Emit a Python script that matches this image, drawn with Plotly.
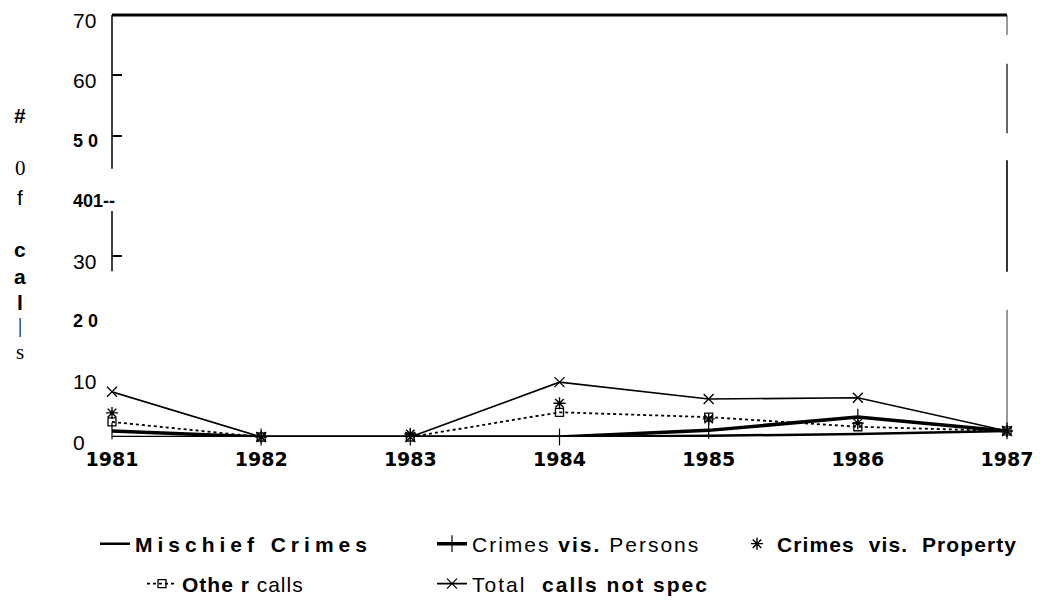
import plotly.graph_objects as go

# Calls per year, 1981-1987
years = [1981, 1982, 1983, 1984, 1985, 1986, 1987]
mischief = [0, 0, 0, 0, 0.2, 0.5, 1]
persons = [1, 0, 0, 0, 1.1, 3.3, 1]
property_crimes = [4, 0, 0.5, 5.6, 3, 2.3, 1]
other_calls = [2.5, 0, 0, 4.1, 3.3, 1.7, 1]
total_not_spec = [7.5, 0, 0, 9.1, 6.3, 6.5, 1]

y_tick_vals = [70, 60, 50, 40, 30, 20, 10, 0]
y_tick_text = ["70", "60", "<b>5 0</b>", "<b>401--</b>", "30", "<b>2 0</b>", "10", "0"]
x_tick_text = ["<b>1981</b>", "<b>1982</b>", "<b>1983</b>", "<b>1984</b>",
               "<b>1985</b>", "<b>1986</b>", "<b>1987</b>"]

W, H = 1043, 601
L, R, T, B = 112, 36, 15, 164
PW, PH = W - L - R, H - T - B
Y_MAX = 70


def px_x(px):
    return (px - L) / PW


def px_y(py):
    return (H - B - py) / PH


def val_y(v):
    return v / Y_MAX


def spaced(text, px):
    return f'<span style="letter-spacing:{px}px">{text}</span>'


fig = go.Figure()

fig.add_trace(go.Scatter(
    x=years, y=mischief,
    name="<b>" + spaced("Mischief", 5) + "  " + spaced("Crimes", 5) + "</b>",
    mode="lines", line=dict(color="black", width=2.5),
    cliponaxis=False, legend="legend"))
fig.add_trace(go.Scatter(
    x=years, y=persons,
    name=spaced("Crimes <b>vis.</b> Persons", 2),
    mode="lines+markers", line=dict(color="black", width=3.5),
    marker=dict(symbol="line-ns-open", size=12, color="black", line=dict(width=1.2)),
    cliponaxis=False, legend="legend2"))
fig.add_trace(go.Scatter(
    x=years, y=property_crimes,
    name="<b>" + spaced("Crimes  vis.  Property", 1.1) + "</b>",
    mode="markers",
    marker=dict(symbol="asterisk-open", size=10, color="black", line=dict(width=1.4)),
    cliponaxis=False, legend="legend3"))
fig.add_trace(go.Scatter(
    x=years, y=other_calls,
    name=spaced("<b>Othe r</b> calls", 1),
    mode="lines+markers", line=dict(color="black", width=1.8, dash="dot"),
    marker=dict(symbol="square-open", size=8, color="black", line=dict(width=1.3)),
    cliponaxis=False, legend="legend4"))
fig.add_trace(go.Scatter(
    x=years, y=total_not_spec,
    name=spaced("Total  <b>calls not spec</b>", 2),
    mode="lines+markers", line=dict(color="black", width=1.6),
    marker=dict(symbol="x-thin-open", size=10, color="black", line=dict(width=1.3)),
    cliponaxis=False, legend="legend5"))


def vline(x, v0, v1, w):
    return dict(type="line", xref="paper", yref="paper", x0=x, x1=x,
                y0=val_y(v0), y1=val_y(v1), line=dict(color="black", width=w))


# frame: heavy top rule, broken left axis, patchy right edge
shapes = [
    dict(type="line", xref="paper", yref="paper", x0=0, x1=1, y0=1, y1=1,
         line=dict(color="black", width=3)),
    vline(0, 70, 44.5, 1.5),
    vline(0, 37.5, 27.5, 1.5),
    vline(1, 70, 66.7, 0.8),
    vline(1, 61.9, 50.4, 1.2),
    vline(1, 45.9, 27.4, 1.6),
    vline(1, 21.1, 0, 0.8),
]

annotations = []
for v, t in zip(y_tick_vals, y_tick_text):
    bold = t.startswith("<b>")
    annotations.append(dict(
        x=px_x(71), xref="paper", y=v, yref="y", yshift=-5,
        text=t, showarrow=False, xanchor="left", yanchor="middle",
        font=dict(family="Liberation Sans", size=18 if bold else 21, color="black")))

# vertical axis title, one glyph per line
title_glyphs = [("#", 115, "Liberation Sans", True), ("0", 168, "Liberation Serif", False),
                ("f", 197, "Liberation Sans", False), ("c", 250, "Liberation Sans", True),
                ("a", 276, "Liberation Sans", True), ("l", 302, "Liberation Sans", True),
                ("|", 325, "Liberation Serif", False), ("s", 352, "Liberation Serif", False)]
for g, py, fam, bold in title_glyphs:
    annotations.append(dict(
        x=px_x(20), xref="paper", y=px_y(py), yref="paper",
        text=f"<b>{g}</b>" if bold else g, showarrow=False,
        xanchor="center", yanchor="middle",
        font=dict(family=fam, size=21, color="black")))

legend_font = dict(family="Liberation Sans", size=21, color="black")


def leg(px, py):
    return dict(x=px_x(px), y=px_y(py), xanchor="left", yanchor="middle",
                bgcolor="rgba(0,0,0,0)", borderwidth=0, font=legend_font,
                itemwidth=30)


fig.update_layout(
    width=W, height=H,
    margin=dict(l=L, r=R, t=T, b=B, autoexpand=False),
    paper_bgcolor="white", plot_bgcolor="white",
    showlegend=True,
    legend=leg(95, 544), legend2=leg(432, 544), legend3=leg(737, 544),
    legend4=leg(142, 584), legend5=leg(432, 584),
    xaxis=dict(range=[1981, 1987], tickvals=years, ticktext=x_tick_text,
               showgrid=False, zeroline=False, showline=False, ticks="",
               ticklabelstandoff=9,
               tickfont=dict(family="DejaVu Sans", size=19, color="black")),
    yaxis=dict(range=[0, Y_MAX], tickvals=y_tick_vals, showticklabels=False,
               showgrid=False, zeroline=False, showline=False, ticks="",
               minor=dict(tickvals=[30, 50, 60], ticks="inside", ticklen=10,
                          tickwidth=1.5, tickcolor="black")),
    shapes=shapes, annotations=annotations,
)

fig.write_html("out.html")
